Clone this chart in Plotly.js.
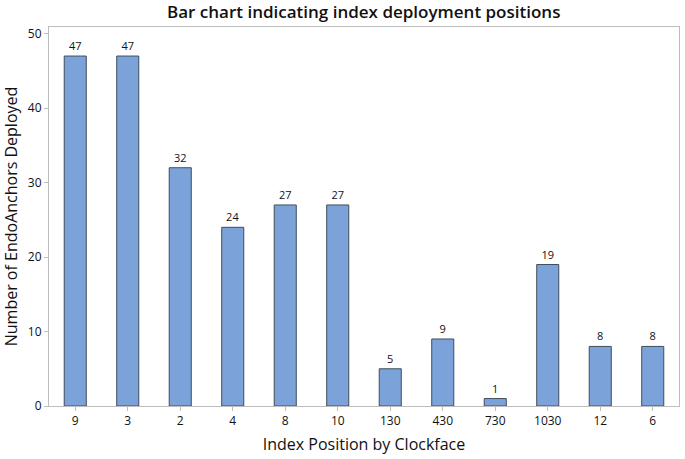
<!DOCTYPE html>
<html><head><meta charset="utf-8">
<script src="https://cdn.plot.ly/plotly-3.0.1.min.js"></script>
<style>html,body{margin:0;padding:0;background:#fff}#chart{width:685px;height:459px}</style>
</head><body><div id="chart"></div>
<script>
var positions = ["9","3","2","4","8","10","130","430","730","1030","12","6"];
var counts = [47,47,32,24,27,27,5,9,1,19,8,8];

var font = "'Open Sans', 'Noto Sans', sans-serif";
var trace = {
  type: "bar",
  x: positions,
  y: counts,
  text: counts.map(String),
  textposition: "outside",
  cliponaxis: false,
  textfont: {family: font, size: 11, color: "#111"},
  marker: {color: "#7ba3da", line: {color: "#3f4d5c", width: 1}},
  width: 0.42,
  hoverinfo: "x+y"
};
var layout = {
  width: 685, height: 459,
  margin: {l: 49, r: 6, t: 27, b: 53},
  paper_bgcolor: "#fff", plot_bgcolor: "#fff",
  showlegend: false,
  title: {text: "Bar chart indicating index deployment positions", font: {family: font, size: 17, color: "#111", weight: 600}, x: 0.531, xanchor: "center", y: 0.974, yanchor: "middle"},
  xaxis: {
    type: "category",
    title: {text: "Index Position by Clockface", font: {family: font, size: 16, color: "#111"}, standoff: 10},
    tickfont: {family: font, size: 12, color: "#111"},
    showline: true, linecolor: "#bdbdbd", linewidth: 1, mirror: true,
    ticks: "outside", ticklen: 4, tickcolor: "#bdbdbd",
    showgrid: false, zeroline: false
  },
  yaxis: {
    range: [0, 50.9],
    tickvals: [0,10,20,30,40,50],
    title: {text: "Number of EndoAnchors Deployed", font: {family: font, size: 16, color: "#111"}, standoff: 8},
    tickfont: {family: font, size: 12, color: "#111"},
    showline: true, linecolor: "#bdbdbd", linewidth: 1, mirror: true,
    ticks: "outside", ticklen: 4, tickcolor: "#bdbdbd",
    showgrid: false, zeroline: false
  },
  bargap: 0.58
};
Plotly.newPlot("chart", [trace], layout, {displayModeBar: false, staticPlot: true});
</script></body></html>
